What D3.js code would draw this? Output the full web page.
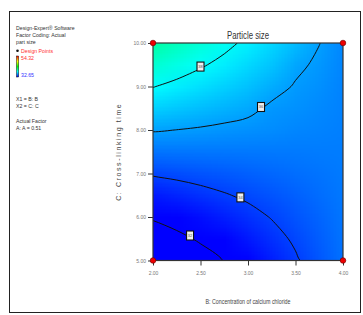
<!DOCTYPE html>
<html>
<head>
<meta charset="utf-8">
<script src="https://cdn.jsdelivr.net/npm/d3@7.9.0/dist/d3.min.js"></script>
<style>
  body { margin: 0; background: #fff; }
  svg { display: block; font-family: "Liberation Sans Narrow", "Arial Narrow", "Liberation Sans", Arial, sans-serif; }
</style>
</head>
<body>
<svg id="chart" width="363" height="315"></svg>
<script>
// B: concentration of calcium chloride (grid columns)
const bValues = [2.00, 2.25, 2.50, 2.75, 3.00, 3.25, 3.50, 3.75, 4.00];
// C: cross-linking time (grid rows)
const cValues = [5.0, 5.5, 6.0, 6.5, 7.0, 7.5, 8.0, 8.5, 9.0, 9.5, 10.0];
// particle size, one row per C value
const sizeGrid = [
  [30.20, 30.81, 31.43, 32.04, 32.65, 33.26, 33.88, 34.49, 35.10],
  [31.18, 31.67, 32.17, 32.67, 33.16, 33.66, 34.15, 34.65, 35.14],
  [32.16, 32.54, 32.92, 33.29, 33.67, 34.05, 34.43, 34.80, 35.18],
  [33.14, 33.40, 33.66, 33.92, 34.18, 34.44, 34.70, 34.96, 35.22],
  [34.12, 34.26, 34.41, 34.55, 34.69, 34.83, 34.98, 35.12, 35.26],
  [35.10, 35.13, 35.15, 35.18, 35.20, 35.23, 35.25, 35.28, 35.30],
  [36.08, 35.99, 35.90, 35.80, 35.71, 35.62, 35.50, 35.43, 35.34],
  [37.06, 36.85, 36.64, 36.43, 36.22, 35.85, 35.72, 35.55, 35.38],
  [38.04, 37.71, 37.39, 37.06, 36.73, 36.30, 35.93, 35.70, 35.42],
  [39.02, 38.58, 38.13, 37.69, 37.24, 36.80, 36.18, 35.85, 35.46],
  [40.00, 39.44, 38.88, 38.31, 37.75, 37.19, 36.63, 36.02, 35.50]
];
const contourLevels = [32, 34, 36, 38];
const labelB = [2.39, 2.92, 3.137, 2.5];   // where each contour gets its label
const xTicks = [2.00, 2.50, 3.00, 3.50, 4.00];
const yTicks = [5.00, 6.00, 7.00, 8.00, 9.00, 10.00];
const designPoints = [[2, 5], [4, 5], [2, 10], [4, 10]];
const sizeRange = [32.65, 54.32];

const svg = d3.select('#chart');
const nx = bValues.length, ny = cValues.length;

const x = d3.scaleLinear().domain([2, 4]).range([153, 343]);
const y = d3.scaleLinear().domain([5, 10]).range([260.5, 43]);

// design-expert style ramp: blue - cyan - green - yellow - red
const color = d3.scaleLinear()
  .domain(d3.range(5).map(i => sizeRange[0] + i * (sizeRange[1] - sizeRange[0]) / 4))
  .range(['#0000ff', '#00ffff', '#00ff00', '#ffff00', '#ff0000'])
  .clamp(true);

// outer frame
svg.append('rect').attr('x', 9.5).attr('y', 11.5).attr('width', 351).attr('height', 301)
  .attr('fill', 'none').attr('stroke', '#222').attr('stroke-width', 1);

svg.append('defs').append('clipPath').attr('id', 'plotclip')
  .append('rect').attr('x', x(2)).attr('y', y(10)).attr('width', x(4) - x(2)).attr('height', y(5) - y(10));

// colour surface: grid -> tiny canvas, stretched with smoothing
const cnv = document.createElement('canvas');
cnv.width = nx; cnv.height = ny;
const ctx = cnv.getContext('2d');
const img = ctx.createImageData(nx, ny);
for (let r = 0; r < ny; r++) {
  const row = sizeGrid[ny - 1 - r];
  for (let i = 0; i < nx; i++) {
    const c = d3.rgb(color(row[i]));
    const k = (r * nx + i) * 4;
    img.data[k] = c.r; img.data[k + 1] = c.g; img.data[k + 2] = c.b; img.data[k + 3] = 255;
  }
}
ctx.putImageData(img, 0, 0);
const cellW = (x(4) - x(2)) / (nx - 1), cellH = (y(5) - y(10)) / (ny - 1);

const plot = svg.append('g').attr('clip-path', 'url(#plotclip)');
plot.append('image')
  .attr('href', cnv.toDataURL())
  .attr('x', x(2) - cellW / 2).attr('y', y(10) - cellH / 2)
  .attr('width', cellW * nx).attr('height', cellH * ny)
  .attr('preserveAspectRatio', 'none');

// contour lines
const gx = d3.scaleLinear().domain([0.5, nx - 0.5]).range([x(bValues[0]), x(bValues[nx - 1])]);
const gy = d3.scaleLinear().domain([0.5, ny - 0.5]).range([y(cValues[0]), y(cValues[ny - 1])]);
const contours = d3.contours().size([nx, ny]).thresholds(contourLevels)(sizeGrid.flat());
const ringLine = d3.line().x(p => gx(p[0])).y(p => gy(p[1])).curve(d3.curveCatmullRomClosed);

contours.forEach(ct => {
  ct.coordinates.forEach(poly => poly.forEach(ring => {
    plot.append('path').attr('d', ringLine(ring))
      .attr('fill', 'none').attr('stroke', '#111').attr('stroke-width', 1);
  }));
});

// plot frame
svg.append('rect').attr('x', x(2)).attr('y', y(10)).attr('width', x(4) - x(2)).attr('height', y(5) - y(10))
  .attr('fill', 'none').attr('stroke', '#333').attr('stroke-width', 1.2);

// contour labels
contours.forEach((ct, idx) => {
  const px = x(labelB[idx]);
  let py = null;
  ct.coordinates.forEach(poly => poly.forEach(ring => {
    for (let k = 0; k < ring.length - 1; k++) {
      const ax = gx(ring[k][0]), bx = gx(ring[k + 1][0]);
      if ((ax - px) * (bx - px) <= 0 && ax !== bx) {
        const t = (px - ax) / (bx - ax);
        const yy = gy(ring[k][1]) + t * (gy(ring[k + 1][1]) - gy(ring[k][1]));
        if (yy > y(10) + 1 && yy < y(5) - 1) py = yy;
      }
    }
  }));
  if (py == null) return;
  const g = svg.append('g').attr('transform', `translate(${px},${py - 2})`);
  g.append('rect').attr('x', -3.5).attr('y', -4.5).attr('width', 7).attr('height', 9)
    .attr('fill', '#eeeeee').attr('stroke', '#111').attr('stroke-width', 1.1);
  g.append('text').attr('text-anchor', 'middle').attr('dy', '0.35em')
    .attr('font-size', 4).attr('fill', '#555').text(contourLevels[idx]);
});

// axes
const xAxis = svg.append('g').attr('transform', `translate(0,${y(5)})`)
  .call(d3.axisBottom(x).tickValues(xTicks).tickFormat(d3.format('.2f')).tickSize(5).tickPadding(6));
const yAxis = svg.append('g').attr('transform', `translate(${x(2)},0)`)
  .call(d3.axisLeft(y).tickValues(yTicks).tickFormat(d3.format('.2f')).tickSize(5).tickPadding(2));
[xAxis, yAxis].forEach(a => {
  a.select('.domain').remove();
  a.selectAll('line').attr('stroke', '#333');
  a.selectAll('text').attr('font-size', 5).attr('fill', '#777')
    .style('font-family', '"Liberation Sans Narrow", Arial, sans-serif');
});

// design points
svg.selectAll('circle.dp').data(designPoints).join('circle')
  .attr('class', 'dp')
  .attr('cx', d => x(d[0])).attr('cy', d => y(d[1])).attr('r', 2.8)
  .attr('fill', '#ee0000').attr('stroke', '#600').attr('stroke-width', 0.6);

// titles (squeezed to the narrow face of the original)
svg.append('text').attr('x', x(3)).attr('y', 38.5).attr('text-anchor', 'middle')
  .attr('font-size', 11).attr('fill', '#333')
  .attr('textLength', 42).attr('lengthAdjust', 'spacingAndGlyphs').text('Particle size');
svg.append('text').attr('x', x(3)).attr('y', 304).attr('text-anchor', 'middle')
  .attr('font-size', 7).attr('fill', '#444')
  .attr('textLength', 85).attr('lengthAdjust', 'spacingAndGlyphs').text('B: Concentration of calcium chloride');
svg.append('text').attr('transform', `translate(121,${(y(5) + y(10)) / 2}) rotate(-90)`)
  .attr('text-anchor', 'middle').attr('font-size', 7).attr('letter-spacing', 1.6)
  .attr('fill', '#444').text('C: Cross-linking time');

// left legend block
const legend = svg.append('g').attr('font-size', 5.2).attr('fill', '#333');
const info = [
  ['Design-Expert® Software', 29.5, '#333'],
  ['Factor Coding: Actual', 36.5, '#333'],
  ['part size', 43.5, '#333'],
  ['Design Points', 52.5, '#ff3030'],
  [d3.format('.2f')(sizeRange[1]), 60, '#ff3030'],
  [d3.format('.2f')(sizeRange[0]), 77, '#3030ff'],
  ['X1 = B: B', 100.5, '#333'],
  ['X2 = C: C', 107.5, '#333'],
  ['Actual Factor', 122.5, '#333'],
  ['A: A = 0.51', 129.5, '#333']
];
info.forEach(([t, yy, c], i) => {
  legend.append('text').attr('x', i >= 3 && i <= 5 ? 21 : 16).attr('y', yy).attr('fill', c).text(t);
});
legend.append('circle').attr('cx', 17.5).attr('cy', 50.8).attr('r', 1.3).attr('fill', '#111');

const grad = svg.select('defs').append('linearGradient').attr('id', 'ramp')
  .attr('x1', 0).attr('y1', 0).attr('x2', 0).attr('y2', 1);
color.range().slice().reverse().forEach((c, i) => {
  grad.append('stop').attr('offset', i / 4).attr('stop-color', c);
});
legend.append('rect').attr('x', 16.5).attr('y', 56).attr('width', 2.2).attr('height', 21)
  .attr('fill', 'url(#ramp)').attr('stroke', '#111').attr('stroke-width', 0.5);
</script>
</body>
</html>
